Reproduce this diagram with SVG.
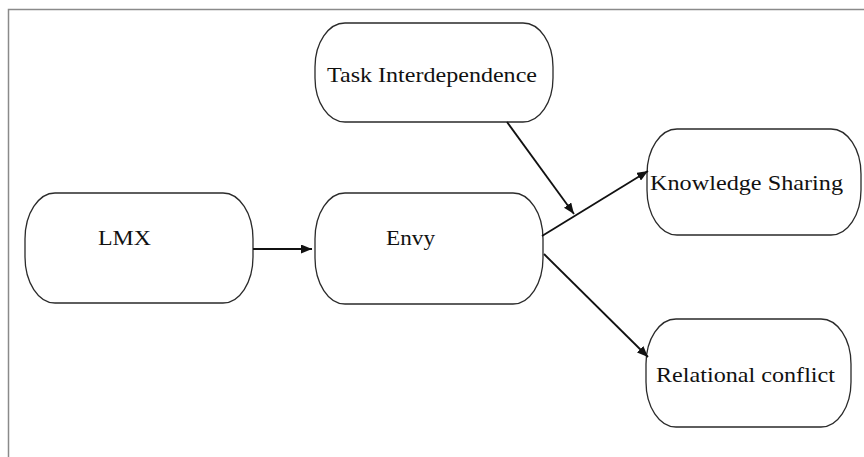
<svg xmlns="http://www.w3.org/2000/svg" width="864" height="457" viewBox="0 0 864 457">
  <style>
    .node rect { fill: #ffffff; stroke: #2a2a2a; stroke-width: 1.3; }
    .node text { font-family: "Liberation Serif", "Times New Roman", serif; font-size: 22px; fill: #111; }
    .conn line { stroke: #111; stroke-width: 1.8; fill: none; }
    .frame { stroke: #8a8a8a; stroke-width: 1.5; fill: none; }
  </style>
  <defs>
    <marker id="arrow" markerUnits="userSpaceOnUse" markerWidth="11" markerHeight="9" refX="11" refY="4.5" orient="auto">
      <path d="M0,0 L11,4.5 L0,9 z" fill="#111"/>
    </marker>
  </defs>
  <rect x="0" y="0" width="864" height="457" fill="#ffffff"/>
  <path class="frame" d="M8.5,457 L8.5,9.5 L864,9.5"/>

  <g id="task-interdependence" class="node">
    <rect x="315" y="23" width="238" height="99" rx="30" ry="44"/>
    <text x="327" y="82" textLength="210" lengthAdjust="spacingAndGlyphs">Task Interdependence</text>
  </g>
  <g id="lmx" class="node">
    <rect x="25" y="193" width="228" height="110" rx="30" ry="46"/>
    <text x="98" y="245" textLength="53" lengthAdjust="spacingAndGlyphs">LMX</text>
  </g>
  <g id="envy" class="node">
    <rect x="315" y="193" width="228" height="111" rx="30" ry="46"/>
    <text x="386" y="245" textLength="49" lengthAdjust="spacingAndGlyphs">Envy</text>
  </g>
  <g id="knowledge-sharing" class="node">
    <rect x="647" y="129" width="214" height="106" rx="30" ry="45"/>
    <text x="650" y="190" textLength="193" lengthAdjust="spacingAndGlyphs">Knowledge Sharing</text>
  </g>
  <g id="relational-conflict" class="node">
    <rect x="646" y="319" width="205" height="108" rx="30" ry="45"/>
    <text x="656" y="382" textLength="179" lengthAdjust="spacingAndGlyphs">Relational conflict</text>
  </g>

  <g id="connectors" class="conn">
    <line x1="253" y1="249" x2="312" y2="249" marker-end="url(#arrow)"/>
    <line x1="542" y1="236" x2="648" y2="171" marker-end="url(#arrow)"/>
    <line x1="507" y1="122" x2="574" y2="214" marker-end="url(#arrow)"/>
    <line x1="544" y1="254" x2="648" y2="357" marker-end="url(#arrow)"/>
  </g>
</svg>
